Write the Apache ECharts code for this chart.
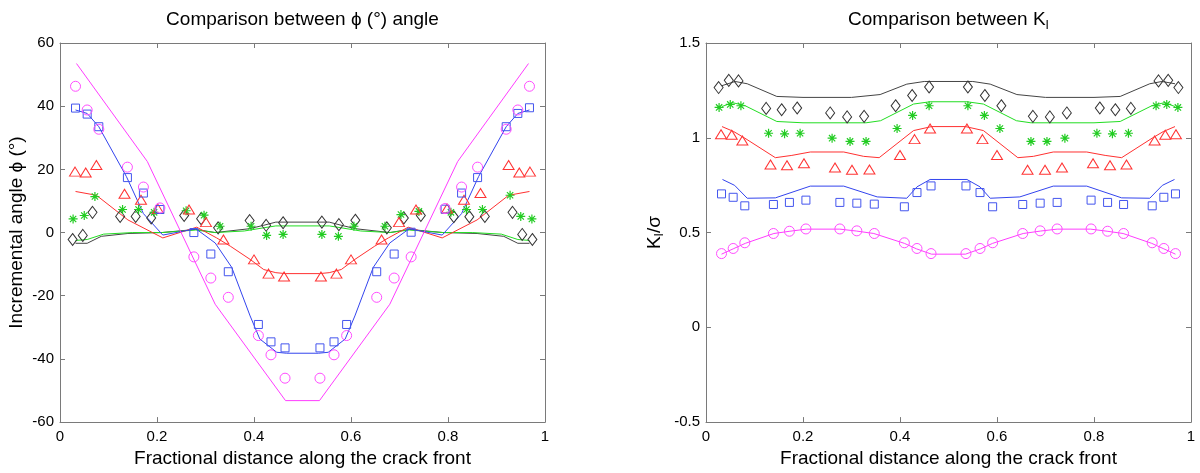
<!DOCTYPE html>
<html><head><meta charset="utf-8">
<script src="https://cdn.jsdelivr.net/npm/echarts@6/dist/echarts.min.js"></script>
<style>html,body{margin:0;padding:0;background:#fff}#c{width:1200px;height:473px}</style>
</head><body><div id="c"></div>
<script>
// ---- marker x positions (fractional distance) ----
const xCircle   = [0.032,0.056,0.080,0.139,0.172,0.206,0.276,0.311,0.347,0.409,0.435,0.464,0.536,0.565,0.591,0.653,0.689,0.724,0.794,0.828,0.861,0.920,0.944,0.968];
const xSquare   = [0.032,0.056,0.080,0.139,0.172,0.206,0.276,0.311,0.347,0.409,0.435,0.464,0.536,0.565,0.591,0.653,0.689,0.724,0.794,0.828,0.861,0.920,0.944,0.968];
const xTriangle = [0.031,0.053,0.075,0.133,0.167,0.202,0.266,0.301,0.337,0.400,0.430,0.462,0.538,0.570,0.600,0.663,0.699,0.734,0.798,0.833,0.867,0.925,0.947,0.969];
const xStar     = [0.027,0.050,0.072,0.129,0.162,0.194,0.260,0.297,0.330,0.394,0.426,0.460,0.540,0.574,0.606,0.670,0.703,0.740,0.806,0.838,0.871,0.928,0.950,0.973];
const xDiamond  = [0.026,0.047,0.067,0.124,0.156,0.188,0.256,0.291,0.326,0.391,0.425,0.460,0.540,0.575,0.609,0.674,0.709,0.744,0.812,0.844,0.876,0.933,0.953,0.974];

// ---- left chart: incremental angle phi (deg), markers ----
const phiCircle   = [46.3,38.8,32.7,20.7,14.4,7.8,-7.7,-14.4,-20.5,-32.6,-38.7,-46.1,-46.1,-38.7,-32.6,-20.5,-14.4,-7.7,7.6,14.4,20.7,32.7,38.8,46.3];
const phiSquare   = [39.4,37.5,33.5,17.4,12.5,7.3,0.0,-6.8,-12.4,-29.1,-34.6,-36.5,-36.5,-34.6,-29.1,-12.4,-6.8,0.1,7.4,12.5,17.4,33.5,37.7,39.5];
const phiTriangle = [19.3,19.0,21.4,12.3,10.4,7.5,7.3,3.3,-2.2,-8.5,-13.0,-13.9,-13.9,-13.0,-8.5,-2.2,3.3,7.3,7.6,10.4,12.5,21.4,19.0,19.3];
const phiStar     = [4.3,5.4,11.4,7.3,7.3,6.4,6.9,5.5,2.0,2.0,-0.9,-0.6,-0.6,-1.2,2.0,2.0,5.7,6.7,6.4,7.3,7.3,11.8,5.1,4.3];
const phiDiamond  = [-2.2,-0.9,6.4,5.1,5.1,4.6,5.4,4.4,1.5,3.8,2.3,3.1,3.3,2.5,3.9,1.5,4.6,5.4,5.0,5.0,5.1,6.4,-0.6,-2.2];

// ---- left chart: lines ----
const phiLineMagX   = [0.034,0.18,0.32,0.465,0.535,0.68,0.82,0.966];
const phiLineMag    = [53.5,22.5,-22.7,-53.2,-53.2,-22.7,22.5,53.5];
const phiLineBlueX  = [0.032,0.056,0.08,0.137,0.172,0.212,0.28,0.32,0.354,0.392,0.412,0.447,0.467,0.533,0.553,0.588,0.608,0.646,0.68,0.72,0.788,0.828,0.863,0.92,0.944,0.968];
const phiLineBlue   = [38.8,37.7,33.5,17.7,6.0,-0.8,1.2,-3.3,-11.0,-26.4,-33.7,-37.9,-38.2,-38.2,-37.9,-33.7,-26.4,-11.0,-3.3,1.2,-0.8,6.0,17.7,33.5,37.7,38.8];
const phiLineRedX   = [0.032,0.075,0.14,0.212,0.282,0.323,0.351,0.392,0.42,0.445,0.465,0.535,0.555,0.58,0.608,0.649,0.677,0.718,0.788,0.86,0.925,0.968];
const phiLineRed    = [13.0,11.8,4.0,-1.7,1.7,-1.7,-4.3,-8.5,-11.7,-12.7,-13.0,-13.0,-12.7,-11.7,-8.5,-4.3,-1.7,1.7,-1.7,4.0,11.8,13.0];
const phiLineGreenX = [0.032,0.056,0.09,0.15,0.21,0.28,0.32,0.38,0.42,0.445,0.555,0.58,0.62,0.68,0.72,0.79,0.85,0.91,0.944,0.968];
const phiLineGreen  = [-2.5,-2.2,-0.5,0.0,0.0,0.8,0.0,0.5,1.5,2.1,2.1,1.5,0.5,0.0,0.8,0.0,0.0,-0.5,-2.2,-2.5];
const phiLineBlackX = [0.032,0.056,0.085,0.14,0.21,0.28,0.32,0.39,0.42,0.445,0.555,0.58,0.61,0.68,0.72,0.79,0.86,0.915,0.944,0.968];
const phiLineBlack  = [-3.4,-3.4,-1.2,-0.3,0.0,1.0,0.0,1.2,2.3,3.3,3.3,2.3,1.2,0.0,1.0,0.0,-0.3,-1.2,-3.4,-3.4];

// ---- right chart: K_I / sigma, markers ----
const kCircle   = [0.389,0.416,0.446,0.495,0.507,0.519,0.519,0.509,0.495,0.446,0.416,0.389,0.389,0.416,0.446,0.495,0.509,0.519,0.519,0.507,0.495,0.446,0.416,0.389];
const kSquare   = [0.704,0.686,0.641,0.648,0.659,0.671,0.659,0.655,0.650,0.636,0.711,0.746,0.746,0.711,0.636,0.648,0.655,0.659,0.671,0.659,0.648,0.641,0.686,0.704];
const kTriangle = [1.019,1.016,0.986,0.859,0.855,0.866,0.843,0.831,0.833,0.909,0.993,1.049,1.049,0.993,0.909,0.831,0.831,0.843,0.866,0.855,0.859,0.986,1.016,1.019];
const kStar     = [1.160,1.176,1.169,1.024,1.021,1.024,0.998,0.981,0.981,1.049,1.118,1.169,1.169,1.118,1.049,0.981,0.981,0.998,1.024,1.021,1.024,1.169,1.176,1.160];
const kDiamond  = [1.265,1.303,1.300,1.155,1.148,1.157,1.131,1.110,1.113,1.169,1.223,1.268,1.268,1.223,1.169,1.113,1.110,1.131,1.157,1.148,1.155,1.300,1.303,1.265];

// ---- right chart: lines ----
const kLineMagX   = [0.032,0.056,0.081,0.140,0.173,0.207,0.276,0.310,0.346,0.409,0.434,0.465,0.535,0.566,0.591,0.654,0.690,0.724,0.793,0.827,0.860,0.919,0.944,0.968];
const kLineMag    = [0.386,0.414,0.443,0.495,0.507,0.518,0.518,0.508,0.495,0.443,0.414,0.386,0.386,0.414,0.443,0.495,0.508,0.518,0.518,0.507,0.495,0.443,0.414,0.386];
const kLineBlueX  = [0.034,0.059,0.085,0.143,0.215,0.284,0.353,0.414,0.435,0.462,0.538,0.565,0.586,0.647,0.716,0.785,0.857,0.915,0.941,0.966];
const kLineBlue   = [0.780,0.749,0.681,0.683,0.745,0.745,0.688,0.681,0.741,0.780,0.780,0.741,0.681,0.688,0.745,0.745,0.683,0.681,0.749,0.780];
const kLineRedX   = [0.033,0.057,0.080,0.143,0.177,0.215,0.284,0.325,0.357,0.428,0.465,0.535,0.572,0.643,0.675,0.716,0.785,0.823,0.857,0.920,0.943,0.967];
const kLineRed    = [1.059,1.033,0.998,0.895,0.907,0.925,0.925,0.902,0.895,1.038,1.059,1.059,1.038,0.895,0.902,0.925,0.925,0.907,0.895,0.998,1.033,1.059];
const kLineGreenX = [0.033,0.055,0.080,0.146,0.200,0.330,0.360,0.428,0.462,0.538,0.572,0.640,0.670,0.800,0.854,0.920,0.945,0.967];
const kLineGreen  = [1.165,1.185,1.170,1.086,1.079,1.079,1.090,1.178,1.190,1.190,1.178,1.090,1.079,1.079,1.086,1.170,1.185,1.165];
const kLineBlackX = [0.033,0.060,0.085,0.146,0.200,0.300,0.359,0.414,0.450,0.550,0.586,0.641,0.700,0.800,0.854,0.915,0.940,0.967];
const kLineBlack  = [1.275,1.297,1.285,1.218,1.213,1.213,1.228,1.283,1.297,1.297,1.283,1.228,1.213,1.213,1.218,1.285,1.297,1.285];

const FONT = '"Liberation Sans", Arial, "DejaVu Sans", sans-serif';
const AXC = '#7a7a7a';
const COL = {mag:'#ff3cff', blue:'#3344ee', red:'#ff3030', green:'#22dd22', black:'#444444'};
const MCOL = {mag:'#ff4dff', blue:'#4455ee', red:'#ff3333', green:'#22cc22', black:'#333333'};
const STAR = 'path://M5,0L5,10M0,5L10,5M1.5,1.5L8.5,8.5M8.5,1.5L1.5,8.5';

function zip(xs, ys){ return xs.map((x,i)=>[x, ys[i]]); }

function lineS(g, xs, ys, c){
  return {type:'line', xAxisIndex:g*2, yAxisIndex:g*2, data:zip(xs,ys), symbol:'none',
    lineStyle:{color:c, width:1}, z:2, silent:true, animation:false};
}
function markS(g, xs, ys, c, sym, size, bw){
  return {type:'scatter', xAxisIndex:g*2, yAxisIndex:g*2, data:zip(xs,ys), symbol:sym, symbolSize:size,
    itemStyle:{color:'rgba(0,0,0,0)', borderColor:c, borderWidth:bw||1, opacity:1}, z:3, silent:true, animation:false};
}

const grids = [
  {left:60, top:43, width:485, height:381},
  {left:706, top:43, width:485, height:381}
];

function xAxes(g){
  const base = {type:'value', gridIndex:g, min:0, max:1, interval:0.2,
    axisLine:{show:true, onZero:false, lineStyle:{color:AXC, width:1}},
    axisTick:{show:true, inside:true, length:5, lineStyle:{color:AXC}},
    splitLine:{show:false}};
  return [
    Object.assign({}, base, {position:'bottom',
      axisLabel:{show:true, margin:7, color:'#000', fontSize:15, fontFamily:FONT},
      name:'Fractional distance along the crack front', nameLocation:'middle', nameGap:26,
      nameTextStyle:{color:'#000', fontSize:19, fontFamily:FONT}}),
    Object.assign({}, base, {position:'top', axisLabel:{show:false}})
  ];
}
function yAxes(g, min, max, interval, name, nameGap, rich){
  const base = {type:'value', gridIndex:g, min:min, max:max, interval:interval,
    axisLine:{show:true, onZero:false, lineStyle:{color:AXC, width:1}},
    axisTick:{show:true, inside:true, length:5, lineStyle:{color:AXC}},
    splitLine:{show:false}};
  return [
    Object.assign({}, base, {position:'left',
      axisLabel:{show:true, margin:6, color:'#000', fontSize:15, fontFamily:FONT},
      name:name, nameLocation:'middle', nameGap:nameGap, nameRotate:90,
      nameTextStyle:Object.assign({color:'#000', fontSize:19, fontFamily:FONT}, rich?{rich:rich}:{})}),
    Object.assign({}, base, {position:'right', axisLabel:{show:false}})
  ];
}

const subRich = {
  m:{fontSize:19, fontFamily:FONT, color:'#000'},
  s:{fontSize:12, fontFamily:FONT, color:'#000', verticalAlign:'top', padding:[11,0,0,0]}
};

const series = [
  lineS(0, phiLineBlackX, phiLineBlack, COL.black),
  lineS(0, phiLineGreenX, phiLineGreen, COL.green),
  lineS(0, phiLineRedX, phiLineRed, COL.red),
  lineS(0, phiLineBlueX, phiLineBlue, COL.blue),
  lineS(0, phiLineMagX, phiLineMag, COL.mag),
  markS(0, xDiamond, phiDiamond, MCOL.black, 'diamond', [9,12]),
  markS(0, xStar, phiStar, MCOL.green, STAR, 9, 1.2),
  markS(0, xTriangle, phiTriangle, MCOL.red, 'triangle', [11,9]),
  markS(0, xSquare, phiSquare, MCOL.blue, 'rect', 8),
  markS(0, xCircle, phiCircle, MCOL.mag, 'circle', 10),

  lineS(1, kLineBlackX, kLineBlack, COL.black),
  lineS(1, kLineGreenX, kLineGreen, COL.green),
  lineS(1, kLineRedX, kLineRed, COL.red),
  lineS(1, kLineBlueX, kLineBlue, COL.blue),
  lineS(1, kLineMagX, kLineMag, COL.mag),
  markS(1, xDiamond, kDiamond, MCOL.black, 'diamond', [9,12]),
  markS(1, xStar, kStar, MCOL.green, STAR, 9, 1.2),
  markS(1, xTriangle, kTriangle, MCOL.red, 'triangle', [11,9]),
  markS(1, xSquare, kSquare, MCOL.blue, 'rect', 8),
  markS(1, xCircle, kCircle, MCOL.mag, 'circle', 10)
];

const chart = echarts.init(document.getElementById('c'), null, {renderer:'canvas'});
chart.setOption({
  backgroundColor:'#fff',
  animation:false,
  grid: grids,
  xAxis: [].concat(xAxes(0), xAxes(1)),
  yAxis: [].concat(
    yAxes(0, -60, 60, 20, 'Incremental angle \u03d5 (\u00b0)', 34, null),
    yAxes(1, -0.5, 1.5, 0.5, '{m|K}{s|I}{m|/\u03c3}', 40, subRich)
  ),
  graphic: [
    {type:'text', x:302.5, y:20, style:{text:'Comparison between \u03d5 (\u00b0) angle', fontSize:19, fontFamily:FONT, fill:'#000', align:'center', verticalAlign:'middle'}},
    {type:'text', x:948.5, y:20, style:{text:'{m|Comparison between K}{s|I}', align:'center', verticalAlign:'middle', rich:subRich, fill:'#000'}}
  ],
  series: series
});
</script>
</body></html>
